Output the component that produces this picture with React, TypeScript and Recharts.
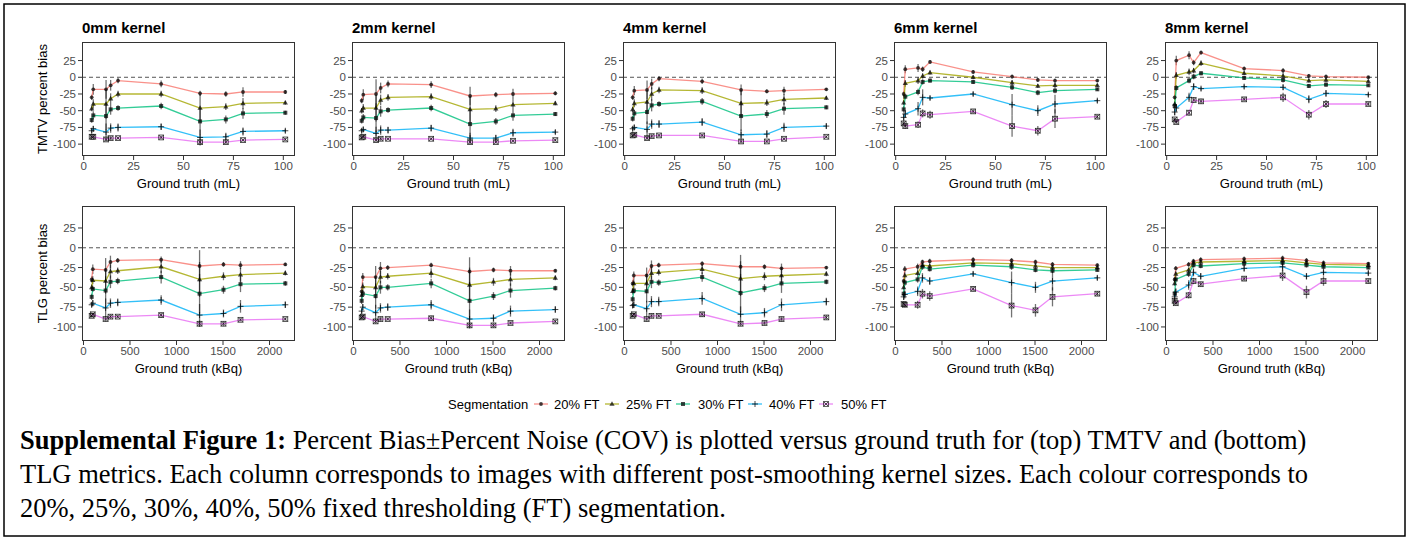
import React from 'react';
import { LineChart, Line, XAxis, YAxis, ErrorBar, ReferenceLine } from 'recharts';

// ---------- categories / labels ----------
const segLabels = ['20% FT', '25% FT', '30% FT', '40% FT', '50% FT'];
const segColors = ['#F8766D', '#A3A500', '#00BF7D', '#00B0F6', '#E76BF3'];
const kernelLabels = ['0mm kernel', '2mm kernel', '4mm kernel', '6mm kernel', '8mm kernel'];
const volumeML = [4.0, 4.8, 11.2, 13.5, 17.2, 38.8, 58.3, 71.2, 79.8, 101.0];
const activityKBq = [88, 100, 238, 290, 368, 835, 1248, 1505, 1688, 2170];
const mlTicks = [0, 25, 50, 75, 100];
const kbqTicks = [0, 500, 1000, 1500, 2000];
const biasTicks = [-100, -75, -50, -25, 0, 25];

// ---------- TMTV percent bias (rows: 20,25,30,40,50 % FT) ----------
const tmtv0 = [
  [-30, -18, -18, -12, -5, -10, -24, -25, -22, -22],
  [-47, -40, -40, -32, -25, -25, -46, -44, -39, -38],
  [-64, -57, -58, -48, -46, -43, -66, -63, -54, -53],
  [-80, -77, -82, -76, -75, -74, -90, -89, -81, -80],
  [-89, -89, -93, -91, -91, -90, -97, -97, -94, -93],
];
const tmtv0Err = [
  [4, 8, 14, 8, 4, 5, 4, 4, 7, 3],
  [4, 7, 22, 8, 5, 5, 20, 5, 8, 3],
  [4, 6, 20, 8, 4, 5, 20, 6, 8, 3],
  [3, 4, 13, 7, 6, 5, 12, 6, 6, 3],
  [2, 2, 3, 3, 2, 2, 3, 3, 2, 2],
];
const tmtv2 = [
  [-35, -26, -25, -16, -10, -11, -28, -26, -25, -24],
  [-50, -46, -46, -34, -30, -29, -48, -47, -41, -39],
  [-65, -60, -61, -51, -49, -46, -70, -66, -57, -55],
  [-80, -78, -84, -79, -79, -76, -91, -91, -83, -82],
  [-90, -89, -94, -92, -92, -92, -97, -97, -95, -94],
];
const tmtv2Err = [
  [4, 8, 22, 8, 5, 5, 14, 4, 8, 3],
  [4, 6, 20, 8, 5, 5, 20, 5, 8, 3],
  [4, 5, 22, 8, 4, 5, 22, 5, 8, 3],
  [3, 4, 10, 7, 5, 5, 8, 5, 6, 3],
  [2, 2, 3, 3, 2, 2, 3, 2, 2, 2],
];
const tmtv4 = [
  [-30, -20, -19, -10, -2, -6, -19, -21, -20, -18],
  [-48, -39, -37, -25, -19, -20, -39, -38, -33, -31],
  [-62, -54, -52, -42, -40, -36, -58, -55, -47, -45],
  [-77, -75, -78, -70, -70, -67, -86, -85, -75, -73],
  [-87, -86, -91, -88, -87, -87, -96, -96, -92, -89],
];
const tmtv4Err = [
  [4, 7, 14, 8, 4, 4, 8, 3, 6, 2],
  [4, 6, 18, 10, 5, 5, 20, 5, 8, 3],
  [4, 5, 18, 9, 4, 5, 22, 6, 9, 3],
  [3, 4, 12, 7, 6, 6, 8, 6, 7, 4],
  [2, 2, 3, 3, 2, 2, 3, 2, 2, 2],
];
const tmtv6 = [
  [-25, 12, 14, 12, 23, 8, 1, -4, -5, -5],
  [-38, -9, -5, 2, 7, 0, -8, -13, -12, -12],
  [-48, -29, -22, -7, -5, -7, -15, -23, -20, -18],
  [-60, -55, -47, -30, -31, -25, -41, -50, -40, -35],
  [-69, -73, -71, -54, -56, -51, -73, -80, -62, -59],
];
const tmtv6Err = [
  [4, 6, 6, 4, 3, 3, 3, 3, 3, 2],
  [4, 5, 5, 4, 3, 3, 4, 3, 4, 2],
  [5, 4, 5, 4, 3, 3, 4, 4, 4, 2],
  [6, 6, 10, 12, 3, 3, 16, 8, 14, 3],
  [3, 4, 5, 6, 6, 3, 16, 7, 14, 3],
];
const tmtv8 = [
  [-30, 25, 33, 22, 37, 13, 10, 2, 1, 0],
  [-40, 3, 8, 10, 21, 6, 2, -5, -4, -6],
  [-43, -16, -5, 1, 6, -1, -4, -13, -11, -12],
  [-52, -46, -30, -14, -17, -14, -15, -33, -24, -26],
  [-63, -67, -53, -34, -36, -33, -30, -56, -40, -40],
];
const tmtv8Err = [
  [4, 7, 6, 4, 3, 3, 4, 3, 3, 2],
  [4, 5, 5, 4, 4, 3, 4, 3, 3, 2],
  [5, 4, 4, 4, 3, 3, 4, 3, 3, 2],
  [5, 6, 7, 5, 3, 3, 4, 6, 5, 3],
  [3, 3, 4, 4, 4, 3, 7, 7, 6, 3],
];

// ---------- TLG percent bias ----------
const tlg0 = [
  [-40, -27, -28, -18, -16, -15, -23, -21, -22, -21],
  [-50, -41, -42, -30, -29, -24, -40, -36, -34, -32],
  [-62, -52, -54, -43, -42, -37, -58, -53, -46, -45],
  [-72, -70, -76, -70, -69, -66, -85, -83, -74, -72],
  [-86, -84, -90, -87, -87, -85, -96, -96, -91, -90],
];
const tlg0Err = [
  [4, 6, 15, 8, 3, 4, 20, 3, 5, 2],
  [4, 5, 16, 9, 4, 8, 22, 5, 9, 3],
  [4, 4, 18, 8, 4, 8, 25, 5, 10, 3],
  [3, 4, 12, 6, 5, 6, 14, 5, 8, 4],
  [2, 2, 3, 3, 2, 3, 4, 3, 2, 2],
];
const tlg2 = [
  [-55, -37, -37, -26, -25, -22, -30, -28, -29, -29],
  [-60, -49, -50, -37, -36, -32, -47, -43, -40, -38],
  [-67, -58, -61, -50, -50, -45, -67, -61, -54, -51],
  [-80, -75, -82, -76, -75, -72, -90, -89, -80, -78],
  [-88, -87, -93, -90, -90, -89, -98, -98, -95, -93],
];
const tlg2Err = [
  [4, 5, 14, 8, 3, 3, 18, 3, 6, 2],
  [4, 5, 14, 8, 4, 6, 22, 5, 8, 3],
  [4, 4, 16, 8, 4, 6, 24, 5, 9, 3],
  [3, 4, 10, 6, 5, 6, 12, 5, 7, 4],
  [2, 2, 3, 3, 2, 3, 3, 3, 2, 2],
];
const tlg4 = [
  [-45, -35, -35, -23, -22, -20, -24, -24, -26, -25],
  [-55, -45, -45, -32, -31, -27, -39, -36, -35, -33],
  [-65, -54, -55, -43, -44, -37, -57, -51, -45, -43],
  [-73, -72, -77, -68, -68, -64, -84, -82, -72, -68],
  [-86, -84, -90, -86, -86, -84, -96, -95, -90, -88],
];
const tlg4Err = [
  [4, 5, 10, 7, 3, 3, 15, 3, 6, 2],
  [4, 5, 12, 8, 4, 6, 22, 5, 10, 3],
  [4, 4, 14, 8, 4, 6, 24, 5, 12, 3],
  [3, 4, 10, 7, 6, 8, 10, 6, 8, 5],
  [2, 2, 3, 3, 2, 3, 3, 3, 3, 3],
];
const tlg6 = [
  [-42, -27, -24, -18, -17, -15, -16, -18, -21, -22],
  [-50, -35, -32, -22, -23, -19, -20, -23, -25, -25],
  [-58, -44, -40, -24, -27, -22, -24, -28, -29, -28],
  [-62, -59, -55, -38, -42, -33, -44, -50, -42, -38],
  [-71, -72, -72, -58, -61, -52, -73, -79, -62, -58],
];
const tlg6Err = [
  [3, 4, 4, 3, 3, 3, 3, 3, 3, 2],
  [3, 4, 4, 3, 3, 3, 3, 3, 3, 2],
  [4, 4, 4, 4, 3, 3, 4, 3, 3, 2],
  [4, 5, 6, 6, 5, 3, 14, 7, 12, 3],
  [3, 3, 5, 6, 6, 3, 15, 8, 12, 3],
];
const tlg8 = [
  [-40, -26, -21, -17, -15, -14, -13, -16, -19, -20],
  [-45, -33, -28, -19, -18, -17, -16, -19, -21, -22],
  [-58, -40, -33, -22, -23, -20, -19, -22, -24, -25],
  [-62, -56, -47, -31, -36, -26, -24, -36, -31, -32],
  [-67, -70, -60, -42, -46, -39, -35, -56, -42, -42],
];
const tlg8Err = [
  [3, 3, 3, 3, 3, 3, 3, 3, 3, 2],
  [3, 3, 3, 3, 3, 3, 3, 3, 3, 2],
  [4, 4, 4, 3, 3, 3, 3, 3, 3, 2],
  [5, 5, 6, 5, 4, 4, 6, 4, 4, 3],
  [3, 3, 4, 4, 3, 3, 7, 8, 6, 3],
];

const tmtvPanels = [tmtv0, tmtv2, tmtv4, tmtv6, tmtv8];
const tmtvErrPanels = [tmtv0Err, tmtv2Err, tmtv4Err, tmtv6Err, tmtv8Err];
const tlgPanels = [tlg0, tlg2, tlg4, tlg6, tlg8];
const tlgErrPanels = [tlg0Err, tlg2Err, tlg4Err, tlg6Err, tlg8Err];

// ---------- layout ----------
const PLOT_LEFTS = [82, 352, 623, 894, 1165];
const PLOT_W = 213;
const TOP_ROW = { top: 42, h: 114 };
const BOT_ROW = { top: 206, h: 135 };
const Y_AXIS_W = 40;
const X_AXIS_H = 30;
const M_TOP = 5;
const M_RIGHT = 5;
const Y_DOMAIN: [number, number] = [-117.75, 52.75];
const ML_DOMAIN: [number, number] = [-0.85, 105.85];
const KBQ_DOMAIN: [number, number] = [-16, 2274];

const SANS = '"Liberation Sans", Arial, Helvetica, sans-serif';
const SERIF = '"Liberation Serif", "Times New Roman", Times, serif';
const PT = 'rgba(0,0,0,0.72)';

function Marker({ shape, cx, cy }: { shape: number; cx: number; cy: number }) {
  switch (shape) {
    case 0:
      return <circle cx={cx} cy={cy} r={1.9} fill={PT} />;
    case 1:
      return (
        <polygon
          points={`${cx},${cy - 2.8} ${cx - 2.6},${cy + 1.8} ${cx + 2.6},${cy + 1.8}`}
          fill={PT}
        />
      );
    case 2:
      return <rect x={cx - 2} y={cy - 2} width={4} height={4} fill={PT} />;
    case 3:
      return (
        <g stroke={PT} strokeWidth={1}>
          <line x1={cx - 3} y1={cy} x2={cx + 3} y2={cy} />
          <line x1={cx} y1={cy - 3} x2={cx} y2={cy + 3} />
        </g>
      );
    default:
      return (
        <g stroke={PT} strokeWidth={0.9} fill="none">
          <rect x={cx - 2.4} y={cy - 2.4} width={4.8} height={4.8} />
          <line x1={cx - 2.4} y1={cy - 2.4} x2={cx + 2.4} y2={cy + 2.4} />
          <line x1={cx - 2.4} y1={cy + 2.4} x2={cx + 2.4} y2={cy - 2.4} />
        </g>
      );
  }
}

function makeDot(shape: number) {
  return (props: any) => {
    const { cx, cy, index } = props;
    if (cx == null || cy == null || isNaN(cx) || isNaN(cy)) return <g key={`d-${shape}-${index}`} />;
    return (
      <g key={`d-${shape}-${index}`}>
        <Marker shape={shape} cx={cx} cy={cy} />
      </g>
    );
  };
}

function buildRows(xs: number[], vals: number[][], errs: number[][]) {
  return xs.map((x, i) => {
    const row: any = { x };
    vals.forEach((s, k) => {
      row[`v${k}`] = s[i];
      row[`e${k}`] = errs[k][i];
    });
    return row;
  });
}

function Panel({
  left, top, h, xs, vals, errs, xDomain, xTicks,
}: {
  left: number; top: number; h: number; xs: number[]; vals: number[][]; errs: number[][];
  xDomain: [number, number]; xTicks: number[];
}) {
  const data = buildRows(xs, vals, errs);
  const tickStyle = { fill: '#4d4d4d', fontSize: 11.5, fontFamily: SANS };
  return (
    <>
      <div style={{ position: 'absolute', left: left - Y_AXIS_W, top: top - M_TOP }}>
        <LineChart
          width={Y_AXIS_W + PLOT_W + M_RIGHT}
          height={M_TOP + h + X_AXIS_H}
          data={data}
          margin={{ top: M_TOP, right: M_RIGHT, bottom: 0, left: 0 }}
        >
          <XAxis
            type="number"
            dataKey="x"
            domain={xDomain}
            ticks={xTicks}
            interval={0}
            allowDataOverflow
            axisLine={false}
            tickLine={{ stroke: '#333' }}
            tickSize={4}
            tickMargin={2}
            height={X_AXIS_H}
            tick={tickStyle}
          />
          <YAxis
            type="number"
            domain={Y_DOMAIN}
            ticks={biasTicks}
            interval={0}
            allowDataOverflow
            axisLine={false}
            tickLine={{ stroke: '#333' }}
            tickSize={4}
            tickMargin={2}
            width={Y_AXIS_W}
            tick={tickStyle}
          />
          <ReferenceLine y={0} stroke="#555" strokeDasharray="4 3" strokeWidth={1} />
          {segLabels.map((_, k) => (
            <Line
              key={k}
              type="linear"
              dataKey={`v${k}`}
              stroke={segColors[k]}
              strokeWidth={1.3}
              strokeOpacity={0.8}
              dot={makeDot(k)}
              activeDot={false}
              isAnimationActive={false}
            >
              <ErrorBar
                dataKey={`e${k}`}
                direction="y"
                width={0}
                stroke="#000"
                strokeOpacity={0.55}
                strokeWidth={1.3}
                isAnimationActive={false}
              />
            </Line>
          ))}
        </LineChart>
      </div>
      <div
        style={{
          position: 'absolute', left, top, width: PLOT_W, height: h,
          border: '1px solid #333', boxSizing: 'border-box', pointerEvents: 'none',
        }}
      />
    </>
  );
}

function LegendKey({ k, cx, cy }: { k: number; cx: number; cy: number }) {
  return (
    <g>
      <line x1={cx - 7} y1={cy} x2={cx + 7} y2={cy} stroke={segColors[k]} strokeWidth={1.3} strokeOpacity={0.8} />
      <Marker shape={k} cx={cx} cy={cy} />
    </g>
  );
}

const legendKeyX = [541, 612, 683, 755, 826];
const legendTextX = [554, 626, 698, 769, 841];

export default function App() {
  return (
    <div style={{ position: 'absolute', left: 0, top: 0, width: 1410, height: 540, background: '#fff', overflow: 'hidden' }}>
      <svg width={1410} height={540} style={{ position: 'absolute', left: 0, top: 0 }}>
        <rect x={4} y={4} width={1401} height={532} fill="none" stroke="#000" strokeWidth={1.5} />
        {kernelLabels.map((t, i) => (
          <text key={t} x={PLOT_LEFTS[i]} y={27} dominantBaseline="central" fontFamily={SANS} fontSize={15} fontWeight="bold" fill="#000">
            {t}
          </text>
        ))}
        {PLOT_LEFTS.map((l, i) => (
          <g key={`xt${i}`}>
            <text x={l + PLOT_W / 2} y={183} textAnchor="middle" dominantBaseline="central" fontFamily={SANS} fontSize={13} fill="#000">
              Ground truth (mL)
            </text>
            <text x={l + PLOT_W / 2} y={368} textAnchor="middle" dominantBaseline="central" fontFamily={SANS} fontSize={13} fill="#000">
              Ground truth (kBq)
            </text>
          </g>
        ))}
        <text transform={`translate(42, ${TOP_ROW.top + TOP_ROW.h / 2}) rotate(-90)`} textAnchor="middle" dominantBaseline="central" fontFamily={SANS} fontSize={13} fill="#000">
          TMTV percent bias
        </text>
        <text transform={`translate(42, ${BOT_ROW.top + BOT_ROW.h / 2}) rotate(-90)`} textAnchor="middle" dominantBaseline="central" fontFamily={SANS} fontSize={13} fill="#000">
          TLG percent bias
        </text>
        <text x={448} y={404} dominantBaseline="central" fontFamily={SANS} fontSize={13} fill="#000">Segmentation</text>
        {segLabels.map((s, k) => (
          <g key={s}>
            <LegendKey k={k} cx={legendKeyX[k]} cy={404} />
            <text x={legendTextX[k]} y={404} dominantBaseline="central" fontFamily={SANS} fontSize={13} fill="#000">{s}</text>
          </g>
        ))}
        <g fontFamily={SERIF} fontSize={26.5} fill="#000">
          <text x={20} y={449}>
            <tspan fontWeight="bold">Supplemental Figure 1:</tspan>
            <tspan> Percent Bias±Percent Noise (COV) is plotted versus ground truth for (top) TMTV and (bottom)</tspan>
          </text>
          <text x={20} y={483}>
            TLG metrics. Each column corresponds to images with different post-smoothing kernel sizes. Each colour corresponds to
          </text>
          <text x={20} y={517}>
            20%, 25%, 30%, 40%, 50% fixed thresholding (FT) segmentation.
          </text>
        </g>
      </svg>
      {PLOT_LEFTS.map((l, i) => (
        <Panel key={`t${i}`} left={l} top={TOP_ROW.top} h={TOP_ROW.h} xs={volumeML} vals={tmtvPanels[i]} errs={tmtvErrPanels[i]} xDomain={ML_DOMAIN} xTicks={mlTicks} />
      ))}
      {PLOT_LEFTS.map((l, i) => (
        <Panel key={`b${i}`} left={l} top={BOT_ROW.top} h={BOT_ROW.h} xs={activityKBq} vals={tlgPanels[i]} errs={tlgErrPanels[i]} xDomain={KBQ_DOMAIN} xTicks={kbqTicks} />
      ))}
    </div>
  );
}
